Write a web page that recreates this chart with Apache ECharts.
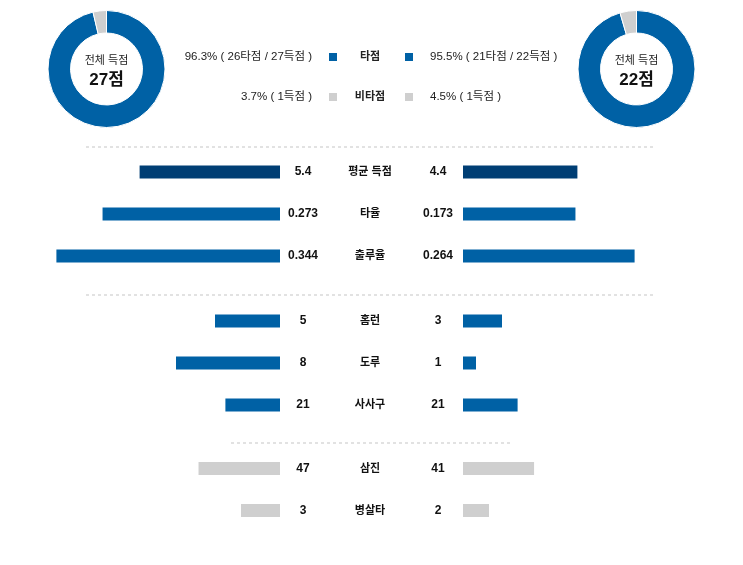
<!DOCTYPE html>
<html>
<head>
<meta charset="utf-8">
<script src="https://cdn.jsdelivr.net/npm/echarts@6/dist/echarts.min.js"></script>
<style>
  html, body { margin: 0; padding: 0; background: #fff; }
  #chart { width: 743px; height: 565px; }
</style>
</head>
<body>
<div id="chart"></div>
<script>
// 데이터
const categories = ['평균 득점', '타율', '출루율', '홈런', '도루', '사사구', '삼진', '병살타']
const homeValues = ['5.4', '0.273', '0.344', '5', '8', '21', '47', '3']
const awayValues = ['4.4', '0.173', '0.264', '3', '1', '21', '41', '2']
const rowMax = [10, 0.4, 0.4, 20, 20, 100, 150, 20]
const groups = [[0, 3], [3, 6], [6, 8]]

const teamRuns = [27, 22]
const teamRbiRuns = [26, 21]
const teamOtherRuns = [1, 1]

// 스타일
const FONT = '"Liberation Sans", "Noto Sans CJK KR", sans-serif'
const BLUE = '#0061a5'
const NAVY = '#003e74'
const GRAY = '#cfcfcf'
const rowColors = [NAVY, BLUE, BLUE, BLUE, BLUE, BLUE, GRAY, GRAY]
const groupTops = [151, 300, 447.5]
const ROW_H = 42

const chart = echarts.init(document.getElementById('chart'))

const grids = []
const xAxes = []
const yAxes = []
const series = []

groups.forEach(([s, e], g) => {
  const cats = categories.slice(s, e)
  const top = groupTops[g]
  const height = (e - s) * ROW_H
  ;['home', 'away'].forEach((side) => {
    const isHome = side === 'home'
    const gi = grids.length
    grids.push({ left: isHome ? 20 : 463, width: 260, top, height })
    xAxes.push({ type: 'value', gridIndex: gi, min: 0, max: 1, inverse: isHome, show: false })
    const vals = isHome ? homeValues : awayValues
    const yi = yAxes.length
    yAxes.push({
      type: 'category',
      gridIndex: gi,
      position: isHome ? 'right' : 'left',
      inverse: true,
      data: cats,
      axisLine: { show: false },
      axisTick: { show: false },
      splitLine: { show: false },
      axisLabel: {
        margin: isHome ? 23 : 25,
        align: 'center',
        fontFamily: FONT,
        fontSize: 12,
        fontWeight: 'bold',
        color: '#111',
        formatter: (v, i) => vals[s + i]
      }
    })
    if (!isHome) {
      // 가운데 항목 이름
      yAxes.push({
        type: 'category',
        gridIndex: gi,
        position: 'left',
        inverse: true,
        data: cats,
        axisLine: { show: false },
        axisTick: { show: false },
        axisLabel: {
          margin: 93,
          align: 'center',
          fontFamily: FONT,
          fontSize: 11,
          fontWeight: 'bold',
          color: '#111'
        }
      })
    }
    series.push({
      type: 'bar',
      xAxisIndex: gi,
      yAxisIndex: yi,
      barWidth: 13,
      silent: true,
      data: cats.map((c, i) => ({
        value: Number(vals[s + i]) / rowMax[s + i],
        itemStyle: { color: rowColors[s + i] }
      }))
    })
  })
})

// 도넛 차트
const donutCenters = [[106.5, 69], [636.5, 69]]
teamRuns.forEach((total, t) => {
  series.push({
    type: 'pie',
    center: donutCenters[t],
    radius: [36, 58.5],
    startAngle: 90,
    silent: true,
    label: { show: false },
    labelLine: { show: false },
    itemStyle: { borderColor: '#fff', borderWidth: 1 },
    data: [
      { name: '타점', value: teamRbiRuns[t], itemStyle: { color: BLUE } },
      { name: '비타점', value: teamOtherRuns[t], itemStyle: { color: GRAY } }
    ]
  })
})

const pct = (a, b) => (a / b * 100).toFixed(1) + '%'
const txt = (x, y, text, opt = {}) => ({
  type: 'text',
  x, y,
  style: {
    text,
    fontFamily: FONT,
    fontSize: opt.size || 11.5,
    fontWeight: opt.bold ? 'bold' : 'normal',
    fill: opt.color || '#222',
    align: opt.align || 'center',
    verticalAlign: 'middle'
  }
})
const square = (x, y, color) => ({
  type: 'rect',
  shape: { x: x - 4, y: y - 4, width: 8, height: 8 },
  style: { fill: color }
})
const dashLine = (x1, x2, y) => ({
  type: 'line',
  shape: { x1, y1: y, x2, y2: y },
  style: { stroke: '#e2e2e2', lineWidth: 2, lineDash: [3, 3] }
})

const graphic = [
  dashLine(86, 655, 147),
  dashLine(86, 655, 295),
  dashLine(231, 511, 443),
  // 범례
  txt(312, 57, `${pct(teamRbiRuns[0], teamRuns[0])} ( ${teamRbiRuns[0]}타점 / ${teamRuns[0]}득점 )`, { align: 'right' }),
  square(333, 57, BLUE),
  txt(370, 57, '타점', { bold: true, size: 11 }),
  square(409, 57, BLUE),
  txt(430, 57, `${pct(teamRbiRuns[1], teamRuns[1])} ( ${teamRbiRuns[1]}타점 / ${teamRuns[1]}득점 )`, { align: 'left' }),
  txt(312, 97, `${pct(teamOtherRuns[0], teamRuns[0])} ( ${teamOtherRuns[0]}득점 )`, { align: 'right' }),
  square(333, 97, GRAY),
  txt(370, 97, '비타점', { bold: true, size: 11 }),
  square(409, 97, GRAY),
  txt(430, 97, `${pct(teamOtherRuns[1], teamRuns[1])} ( ${teamOtherRuns[1]}득점 )`, { align: 'left' })
]
donutCenters.forEach(([cx, cy], t) => {
  graphic.push(txt(cx, cy - 8, '전체 득점', { size: 11, color: '#222' }))
  graphic.push(txt(cx, cy + 11, teamRuns[t] + '점', { size: 17, bold: true, color: '#111' }))
})

chart.setOption({
  animation: false,
  grid: grids,
  xAxis: xAxes,
  yAxis: yAxes,
  series,
  graphic
})
</script>
</body>
</html>
